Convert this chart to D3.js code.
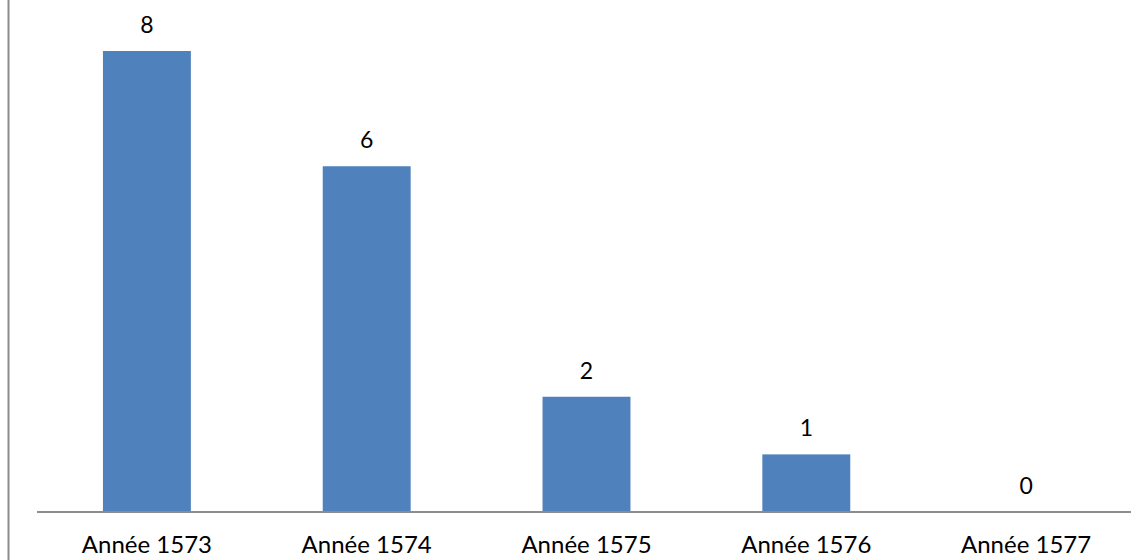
<!DOCTYPE html>
<html>
<head>
<meta charset="utf-8">
<script src="https://cdn.jsdelivr.net/npm/d3@7"></script>
<style>
html,body{margin:0;padding:0;background:#fff;}
svg{display:block;}
text{font-family:Lato,"Open Sans",sans-serif;fill:#000;}
</style>
</head>
<body>
<svg id="chart" width="1131" height="560"></svg>
<script>
const categories = ["Année 1573","Année 1574","Année 1575","Année 1576","Année 1577"];
const values = [8, 6, 2, 1, 0];

const svg = d3.select("#chart");
const W = 1131, H = 560;
const plotLeft = 37, plotRight = 1136, baseY = 512, topY = 51;

const x = d3.scaleBand().domain(categories).range([plotLeft, plotRight]).paddingInner(0.6).paddingOuter(0.3);
const y = d3.scaleLinear().domain([0, 8]).range([baseY, topY]);

// left frame line
svg.append("line").attr("x1",8.5).attr("x2",8.5).attr("y1",0).attr("y2",H)
  .attr("stroke","#8c8c8c").attr("stroke-width",2);

// bars
svg.selectAll("rect.bar").data(values).enter().append("rect")
  .attr("class","bar")
  .attr("x",(d,i)=>x(categories[i]))
  .attr("width",x.bandwidth())
  .attr("y",d=>y(d))
  .attr("height",d=>baseY - y(d))
  .attr("fill","#4F81BD");

// x axis
const xAxis = d3.axisBottom(x).tickSize(0).tickPadding(18);
const gx = svg.append("g").attr("transform",`translate(0,${baseY})`).call(xAxis);
gx.select(".domain").attr("stroke","#8c8c8c").attr("stroke-width",2).attr("d",`M${plotLeft},0H${plotRight}`);
gx.selectAll("text").style("font-family","Lato, 'Open Sans', sans-serif").style("font-size","24px").attr("fill","#000").attr("dy","0.95em");

// value labels
svg.selectAll("text.val").data(values).enter().append("text")
  .attr("class","val")
  .attr("x",(d,i)=>x(categories[i]) + x.bandwidth()/2)
  .attr("y",d=>y(d) - 18)
  .attr("text-anchor","middle")
  .style("font-size","23px")
  .text(d=>d);
</script>
</body>
</html>
